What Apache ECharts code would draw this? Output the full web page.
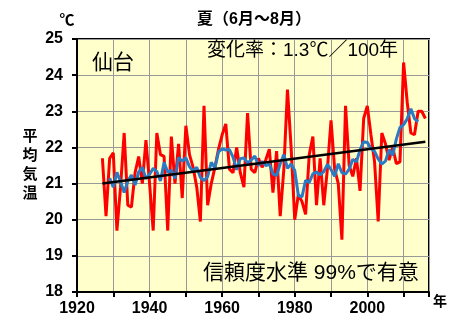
<!DOCTYPE html>
<html><head><meta charset="utf-8">
<script src="https://cdn.jsdelivr.net/npm/echarts@6/dist/echarts.min.js"></script>
<style>html,body{margin:0;padding:0;background:#fff}#c{width:473px;height:326px}</style>
</head><body><div id="c"></div>
<script>
// yearly summer (JJA) mean temperature, Sendai
const years = [
  1927,1928,1929,1930,1931,1932,1933,1934,1935,1936,
  1937,1938,1939,1940,1941,1942,1943,1944,1945,1946,
  1947,1948,1949,1950,1951,1952,1953,1954,1955,1956,
  1957,1958,1959,1960,1961,1962,1963,1964,1965,1966,
  1967,1968,1969,1970,1971,1972,1973,1974,1975,1976,
  1977,1978,1979,1980,1981,1982,1983,1984,1985,1986,
  1987,1988,1989,1990,1991,1992,1993,1994,1995,1996,
  1997,1998,1999,2000,2001,2002,2003,2004,2005,2006,
  2007,2008,2009,2010,2011,2012,2013,2014,2015,2016
];
const temps = [
  21.7,20.1,21.7,21.85,19.7,20.9,22.4,20.4,20.35,21.3,
  21.75,21.0,22.2,21.0,19.7,22.4,21.8,21.75,19.7,22.3,
  21.0,22.1,20.6,22.6,21.8,21.45,20.9,19.95,23.15,20.4,
  21.0,21.45,21.95,22.35,22.65,21.4,21.3,22.0,21.3,20.9,
  22.95,21.4,21.3,21.7,21.45,21.65,21.95,20.75,21.9,20.1,
  21.4,23.6,22.0,20.0,20.7,20.5,20.15,21.8,22.3,20.4,
  21.7,20.4,21.4,22.75,21.4,21.0,19.45,23.15,21.5,21.2,
  21.7,20.8,22.8,23.15,22.35,21.6,19.95,22.4,22.1,21.65,
  22.0,21.55,21.6,24.35,23.25,22.4,22.35,23.0,23.0,22.8
];
// 5-year running mean (blue)
const runYears = [
  1929,1930,1931,1932,1933,1934,1935,1936,1937,1938,
  1939,1940,1941,1942,1943,1944,1945,1946,1947,1948,
  1949,1950,1951,1952,1953,1954,1955,1956,1957,1958,
  1959,1960,1961,1962,1963,1964,1965,1966,1967,1968,
  1969,1970,1971,1972,1973,1974,1975,1976,1977,1978,
  1979,1980,1981,1982,1983,1984,1985,1986,1987,1988,
  1989,1990,1991,1992,1993,1994,1995,1996,1997,1998,
  1999,2000,2001,2002,2003,2004,2005,2006,2007,2008,
  2009,2010,2011,2012,2013,2014
];
const runMeans = [
  21.15,20.9,21.31,21.05,20.75,21.07,21.24,20.96,21.32,21.45,
  21.13,21.26,21.42,21.33,21.07,21.59,21.31,21.37,21.14,21.72,
  21.62,21.71,21.47,21.34,21.45,21.17,21.08,21.19,21.59,21.43,
  21.88,21.96,21.93,21.94,21.73,21.38,21.69,21.71,21.57,21.65,
  21.76,21.5,21.61,21.5,21.54,21.27,21.22,21.55,21.8,21.42,
  21.54,21.36,20.67,20.63,21.09,21.03,21.27,21.32,21.24,21.33,
  21.53,21.39,21.2,21.55,21.3,21.26,21.4,21.67,21.6,21.93,
  22.16,22.14,21.97,21.89,21.68,21.54,21.62,21.94,21.78,22.23,
  22.55,22.63,22.79,23.07,22.8,22.71
];
// linear trend (1.3 C / 100 yr)
const trendYears = [1927, 2016];
const trendValues = [21.0, 22.16];

const yMin = 18, yMax = 25, yStep = 1;
const xMin = 1920, xMax = 2017, xStep = 10;
const xLabelYears = [1920, 1940, 1960, 1980, 2000];

const FONT = "'Liberation Sans','Noto Sans CJK JP',sans-serif";
const pair = (xs, ys) => xs.map((x, i) => [x, ys[i]]);

const chart = echarts.init(document.getElementById('c'), null, {renderer: 'canvas'});
chart.setOption({
  backgroundColor: '#ffffff',
  animation: false,
  grid: {left: 77, right: 44, top: 39, bottom: 34, show: true,
         backgroundColor: '#FFFFCC', borderColor: '#000', borderWidth: 2},
  xAxis: {
    type: 'value', min: xMin, max: xMax, interval: xStep,
    axisLine: {show: true, onZero: false, lineStyle: {color: '#000', width: 2}},
    axisTick: {show: true, length: 5, lineStyle: {color: '#000', width: 2}},
    axisLabel: {margin: 9, color: '#000', fontSize: 16, fontWeight: 'bold', fontFamily: FONT,
      formatter: v => xLabelYears.indexOf(v) >= 0 ? String(v) : ''},
    splitLine: {show: true, lineStyle: {color: '#999', width: 1}}
  },
  yAxis: {
    type: 'value', min: yMin, max: yMax, interval: yStep,
    axisLine: {show: true, lineStyle: {color: '#000', width: 2}},
    axisTick: {show: true, length: 5, lineStyle: {color: '#000', width: 2}},
    axisLabel: {margin: 14, color: '#000', fontSize: 16, fontWeight: 'bold', fontFamily: FONT},
    splitLine: {show: true, lineStyle: {color: '#999', width: 1}}
  },
  series: [
    {type: 'line', data: pair(years, temps), showSymbol: false, symbol: 'none',
     lineStyle: {color: '#FF0000', width: 3}, z: 2},
    {type: 'line', data: pair(runYears, runMeans), showSymbol: false, symbol: 'none',
     lineStyle: {color: '#2A7AC4', width: 3}, z: 3},
    {type: 'line', data: pair(trendYears, trendValues), showSymbol: false, symbol: 'none',
     lineStyle: {color: '#000', width: 2.5}, z: 4}
  ],
  graphic: [
    {type: 'text', x: 67, y: 21, z: 100, style: {text: '℃', font: 'bold 15px ' + FONT, fill: '#000', textAlign: 'center', textVerticalAlign: 'middle'}},
    {type: 'text', x: 254, y: 20, z: 100, style: {text: '夏（6月～8月）', font: 'bold 16px ' + FONT, fill: '#000', textAlign: 'center', textVerticalAlign: 'middle'}},
    {type: 'text', x: 207, y: 51, z: 100, style: {text: '変化率：1.3℃／100年', font: '19px ' + FONT, fill: '#000', textAlign: 'left', textVerticalAlign: 'middle'}},
    {type: 'text', x: 92, y: 63, z: 100, style: {text: '仙台', font: '21px ' + FONT, fill: '#000', textAlign: 'left', textVerticalAlign: 'middle'}},
    {type: 'text', x: 203, y: 273, z: 100, style: {text: '信頼度水準 99%で有意', font: '21px ' + FONT, fill: '#000', textAlign: 'left', textVerticalAlign: 'middle'}},
    {type: 'text', x: 440, y: 302, z: 100, style: {text: '年', font: 'bold 14px ' + FONT, fill: '#000', textAlign: 'center', textVerticalAlign: 'middle'}},
    {type: 'text', x: 30, y: 165, z: 100, style: {text: '平\n均\n気\n温', font: 'bold 15px ' + FONT, lineHeight: 19, fill: '#000', textAlign: 'center', textVerticalAlign: 'middle'}}
  ]
});
</script></body></html>
